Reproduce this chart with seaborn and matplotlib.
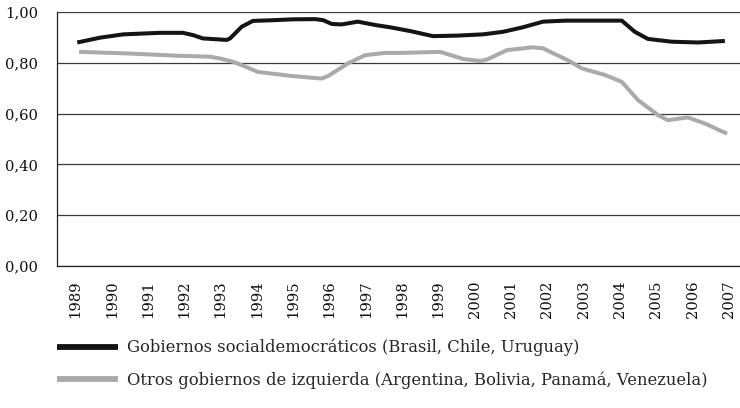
import matplotlib
matplotlib.use("Agg")
import matplotlib.pyplot as plt
import seaborn as sns
import pandas as pd
import numpy as np
from matplotlib.lines import Line2D

# ---- data ----
years = list(range(1989, 2008))
year_labels = [str(y) for y in years]

social_x = [1989.05, 1989.68, 1990.32, 1991.33, 1991.96, 1992.24, 1992.51, 1993.17,
            1993.26, 1993.58, 1993.89, 1994.50, 1994.96, 1995.60, 1995.82, 1996.06,
            1996.33, 1996.78, 1997.25, 1997.66, 1998.22, 1998.85, 1999.51, 2000.23,
            2000.78, 2001.33, 2001.88, 2002.49, 2004.05, 2004.41, 2004.77, 2005.43,
            2006.15, 2006.89]
social_y = [0.880, 0.899, 0.912, 0.918, 0.918, 0.909, 0.896, 0.890,
            0.896, 0.942, 0.965, 0.968, 0.971, 0.972, 0.968, 0.953,
            0.951, 0.962, 0.949, 0.940, 0.925, 0.905, 0.907, 0.912,
            0.922, 0.940, 0.962, 0.966, 0.966, 0.922, 0.894, 0.883,
            0.880, 0.886]

otros_x = [1989.10, 1990.41, 1991.79, 1992.71, 1992.98, 1993.34, 1993.58, 1994.03,
           1994.96, 1995.78, 1995.96, 1996.51, 1996.98, 1997.53, 1997.95, 1999.05,
           1999.68, 2000.15, 2000.34, 2000.89, 2001.60, 2001.88, 2002.49, 2002.67,
           2002.95, 2003.59, 2004.05, 2004.50, 2005.05, 2005.32, 2005.87, 2006.34,
           2006.95]
otros_y = [0.843, 0.837, 0.828, 0.824, 0.817, 0.804, 0.791, 0.764,
           0.748, 0.738, 0.748, 0.798, 0.830, 0.839, 0.839, 0.843,
           0.815, 0.807, 0.813, 0.850, 0.861, 0.857, 0.815, 0.802,
           0.778, 0.752, 0.725, 0.653, 0.594, 0.574, 0.585, 0.561,
           0.521]

series_names = ["Gobiernos socialdemocráticos (Brasil, Chile, Uruguay)",
                "Otros gobiernos de izquierda (Argentina, Bolivia, Panamá, Venezuela)"]
colors = ["#141414", "#aaaaaa"]
yticks = [0.0, 0.2, 0.4, 0.6, 0.8, 1.0]

df = pd.concat([
    pd.DataFrame({"year": social_x, "value": social_y, "series": series_names[0]}),
    pd.DataFrame({"year": otros_x, "value": otros_y, "series": series_names[1]}),
])

sns.set_theme(style="white")
plt.rcParams["font.family"] = ["DejaVu Serif"]
plt.rcParams["font.size"] = 10.6

fig = plt.figure(figsize=(7.40, 4.08), dpi=100)
ax = fig.add_axes([57.3 / 740, 1 - 266 / 408, 1 - 57.3 / 740, (266 - 12) / 408])

sns.lineplot(data=df, x="year", y="value", hue="series", palette=dict(zip(series_names, colors)),
             sort=False, linewidth=2.9, ax=ax, legend=False, zorder=3)
for ln in ax.get_lines():
    ln.set_solid_joinstyle("round")
    ln.set_solid_capstyle("butt")

ax.set_xlim(1988.5, 1989 + (740 - 75.45) / 36.3)
ax.set_ylim(0, 1.0)
ax.set_yticks(yticks)
ax.set_yticklabels([f"{v:.2f}".replace(".", ",") for v in yticks])
ax.yaxis.grid(True, color="#3a3a3a", linewidth=0.9)
ax.xaxis.grid(False)
ax.set_axisbelow(True)

ax.set_xticks(years)
ax.set_xticklabels(year_labels, rotation=90)
ax.set_xticks([y - 0.5 for y in years], minor=True)
ax.tick_params(axis="x", which="major", length=0, pad=10.5, colors="#111111", labelsize=10.6)
ax.tick_params(axis="x", which="minor", length=6, width=0.9, color="#222222", direction="out")
ax.tick_params(axis="y", which="major", length=7, width=0.9, direction="out",
               pad=7, colors="#111111", labelsize=10.6)
ax.tick_params(axis="y", color="#3a3a3a")

for s in ["top", "right"]:
    ax.spines[s].set_visible(False)
ax.spines["left"].set_color("#222222")
ax.spines["left"].set_linewidth(0.9)
ax.spines["bottom"].set_color("#222222")
ax.spines["bottom"].set_linewidth(0.9)
ax.set_xlabel("")
ax.set_ylabel("")

handles = [Line2D([0], [0], color=c, linewidth=4.2, solid_capstyle="butt") for c in colors]
fig.legend(handles, series_names, loc="upper left", bbox_to_anchor=(57 / 740, 1 - 339 / 408),
           frameon=False, handlelength=3.7, handletextpad=0.55, labelspacing=0.9,
           fontsize=11.8, borderaxespad=0, borderpad=0)

fig.savefig("out.png", dpi=100)
